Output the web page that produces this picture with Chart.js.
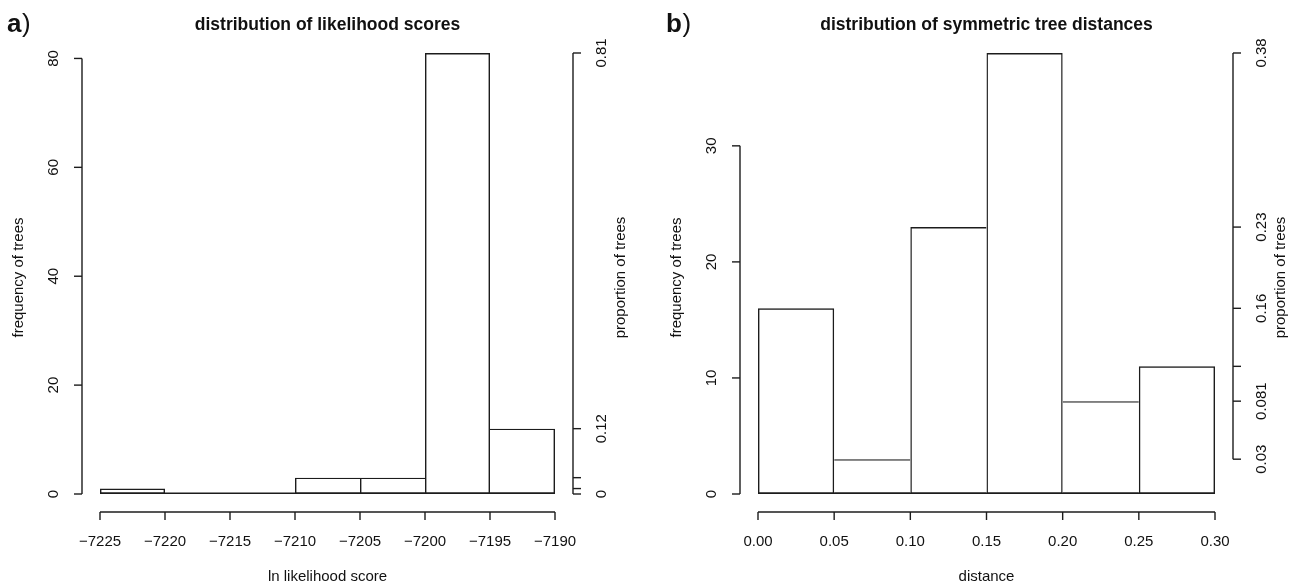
<!DOCTYPE html>
<html>
<head>
<meta charset="utf-8">
<script src="https://cdn.jsdelivr.net/npm/chart.js@4.4.1/dist/chart.umd.min.js"></script>
<style>
    html, body { margin: 0; padding: 0; background: #fff; }
    body { width: 1297px; height: 583px; position: relative; overflow: hidden; }
    canvas { position: absolute; left: 0; top: 0; }
</style>
</head>
<body>
<canvas id="hist_likelihood" width="1297" height="583"></canvas>
<canvas id="hist_distance" width="1297" height="583"></canvas>
<script>

/* Panel a: histogram of ln likelihood scores (100 trees) */

const bins_likelihood = [-7225, -7220, -7215, -7210, -7205, -7200, -7195, -7190];
const counts_likelihood = [1, 0, 0, 3, 3, 81, 12];
const x_labels_likelihood = ['\u22127225', '\u22127220', '\u22127215', '\u22127210', '\u22127205', '\u22127200', '\u22127195', '\u22127190'];
const y_ticks_likelihood = [0, 20, 40, 60, 80];
const prop_labels_likelihood = ['0', '0.01', '0.03', '0.12', '0.81'];

/* Panel b: histogram of symmetric tree distances (99 trees) */

const bins_distance = [0, 0.05, 0.10, 0.15, 0.20, 0.25, 0.30];
const counts_distance = [16, 3, 23, 38, 8, 11];
const x_labels_distance = ['0.00', '0.05', '0.10', '0.15', '0.20', '0.25', '0.30'];
const y_ticks_distance = [0, 10, 20, 30];
const prop_labels_distance = ['0.03', '0.081', '0.11', '0.16', '0.23', '0.38'];

const FONT = '"Liberation Sans", Arial, Helvetica, sans-serif';
const INK = '#1c1c1c';
const LW = 1.4;

/* shared edge between two bins is drawn once, by the taller bin */
function borda_barra(counts, i) {
    if (i === undefined) return LW;
    const n = counts.length;
    return {
        top: LW,
        bottom: LW,
        left: (i === 0 || counts[i] >= counts[i - 1]) ? LW : 0,
        right: (i === n - 1 || counts[i] > counts[i + 1]) ? LW : 0
    };
}

function texto_vertical(ctx, txt, x, y) {
    ctx.save();
    ctx.translate(x, y);
    ctx.rotate(-Math.PI / 2);
    ctx.fillText(txt, 0, 0);
    ctx.restore();
}

function linha(ctx, x1, y1, x2, y2) {
    ctx.beginPath();
    ctx.moveTo(x1, y1);
    ctx.lineTo(x2, y2);
    ctx.stroke();
}

/* R-style detached axes: frequency on the left, proportion on the right */
function eixos_r(cfg) {
    return {
        id: 'eixos_r',
        afterDatasetsDraw(chart) {
            const ctx = chart.ctx;
            const area = chart.chartArea;
            const y = chart.scales.y;
            const xv = chart.scales.xv;
            const gap = 18, tick = 8;
            const ax_left = area.left - gap;
            const ax_right = area.right + gap;
            const ax_bottom = area.bottom + gap;
            const y0 = y.getPixelForValue(0);
            const x_first = xv.getPixelForValue(cfg.bins[0]);
            const x_last = xv.getPixelForValue(cfg.bins[cfg.bins.length - 1]);
            const y_mid = (area.top + area.bottom) / 2 + 4;

            ctx.save();
            ctx.strokeStyle = INK;
            ctx.fillStyle = '#111';
            ctx.lineWidth = LW;

            /* empty bins still show as a line on zero */
            linha(ctx, x_first, y0 - LW / 2, x_last, y0 - LW / 2);

            /* bottom axis */
            linha(ctx, x_first, ax_bottom, x_last, ax_bottom);
            ctx.font = '15px ' + FONT;
            ctx.textAlign = 'center';
            ctx.textBaseline = 'alphabetic';
            cfg.bins.forEach((b, i) => {
                const px = xv.getPixelForValue(b);
                linha(ctx, px, ax_bottom, px, ax_bottom + tick);
                ctx.fillText(cfg.x_labels[i], px, 546);
            });
            ctx.fillText(cfg.x_title, (x_first + x_last) / 2, 581);

            /* left axis */
            const yt = cfg.y_ticks;
            linha(ctx, ax_left, y.getPixelForValue(yt[0]), ax_left, y.getPixelForValue(yt[yt.length - 1]));
            ctx.textBaseline = 'middle';
            yt.forEach(v => {
                const py = y.getPixelForValue(v);
                linha(ctx, ax_left, py, ax_left - tick, py);
                texto_vertical(ctx, String(v), ax_left - 28, py);
            });
            texto_vertical(ctx, cfg.y_title, ax_left - 63, y_mid);

            /* right axis: one tick per distinct bin count, as a proportion */
            const levels = [...new Set(cfg.counts)].sort((a, b) => a - b);
            linha(ctx, ax_right, y.getPixelForValue(levels[0]), ax_right, y.getPixelForValue(levels[levels.length - 1]));
            const min_gap = ctx.measureText('m').width;
            let last_top = Infinity;
            levels.forEach((c, i) => {
                const py = y.getPixelForValue(c);
                linha(ctx, ax_right, py, ax_right + tick, py);
                const lab = cfg.prop_labels[i];
                const w = ctx.measureText(lab).width;
                if (py + w / 2 <= last_top - min_gap) {
                    texto_vertical(ctx, lab, ax_right + 28.5, py);
                    last_top = py - w / 2;
                }
            });
            texto_vertical(ctx, 'proportion of trees', ax_right + 47.5, y_mid);

            /* title and panel letter */
            ctx.textBaseline = 'alphabetic';
            ctx.font = 'bold 17.5px ' + FONT;
            ctx.fillText(cfg.title, (x_first + x_last) / 2, 30);
            ctx.textAlign = 'left';
            ctx.font = 'bold 26px ' + FONT;
            ctx.fillText(cfg.panel, cfg.panel_x, 31.5);
            const lw = ctx.measureText(cfg.panel).width;
            ctx.font = '26px ' + FONT;
            ctx.fillText(')', cfg.panel_x + lw + 0.5, 31.5);
            ctx.restore();
        }
    };
}

function histograma(canvas_id, bins, counts, padding, cfg) {
    const data_hist = {
        labels: bins.slice(0, -1).map(String),
        datasets: [{
            label: 'frequency of trees',
            data: counts,
            backgroundColor: 'rgba(0, 0, 0, 0)',
            borderColor: INK,
            borderWidth: ctx => borda_barra(counts, ctx.dataIndex),
            borderSkipped: false,
            inflateAmount: 0,
            categoryPercentage: 1,
            barPercentage: 1
        }]
    };

    const config_hist = {
        type: 'bar',
        data: data_hist,
        options: {
            responsive: false,
            animation: false,
            events: [],
            layout: { padding: padding },
            plugins: {
                legend: { display: false },
                tooltip: { enabled: false },
                title: { display: false }
            },
            scales: {
                x: { display: false, offset: true },
                xv: {
                    type: 'linear',
                    axis: 'x',
                    display: false,
                    offset: false,
                    min: bins[0],
                    max: bins[bins.length - 1]
                },
                y: {
                    display: false,
                    min: 0,
                    max: Math.max(...counts)
                }
            }
        },
        plugins: [eixos_r(Object.assign({ bins: bins, counts: counts }, cfg))]
    };

    return new Chart(document.getElementById(canvas_id), config_hist);
}

const grafico_likelihood = histograma(
    'hist_likelihood',
    bins_likelihood,
    counts_likelihood,
    { left: 100, right: 742, top: 53, bottom: 89 },
    {
        x_labels: x_labels_likelihood,
        y_ticks: y_ticks_likelihood,
        prop_labels: prop_labels_likelihood,
        title: 'distribution of likelihood scores',
        x_title: 'ln likelihood score',
        y_title: 'frequency of trees',
        panel: 'a',
        panel_x: 7
    }
);

const grafico_distance = histograma(
    'hist_distance',
    bins_distance,
    counts_distance,
    { left: 758, right: 82, top: 53, bottom: 89 },
    {
        x_labels: x_labels_distance,
        y_ticks: y_ticks_distance,
        prop_labels: prop_labels_distance,
        title: 'distribution of symmetric tree distances',
        x_title: 'distance',
        y_title: 'frequency of trees',
        panel: 'b',
        panel_x: 666
    }
);
</script>
</body>
</html>
